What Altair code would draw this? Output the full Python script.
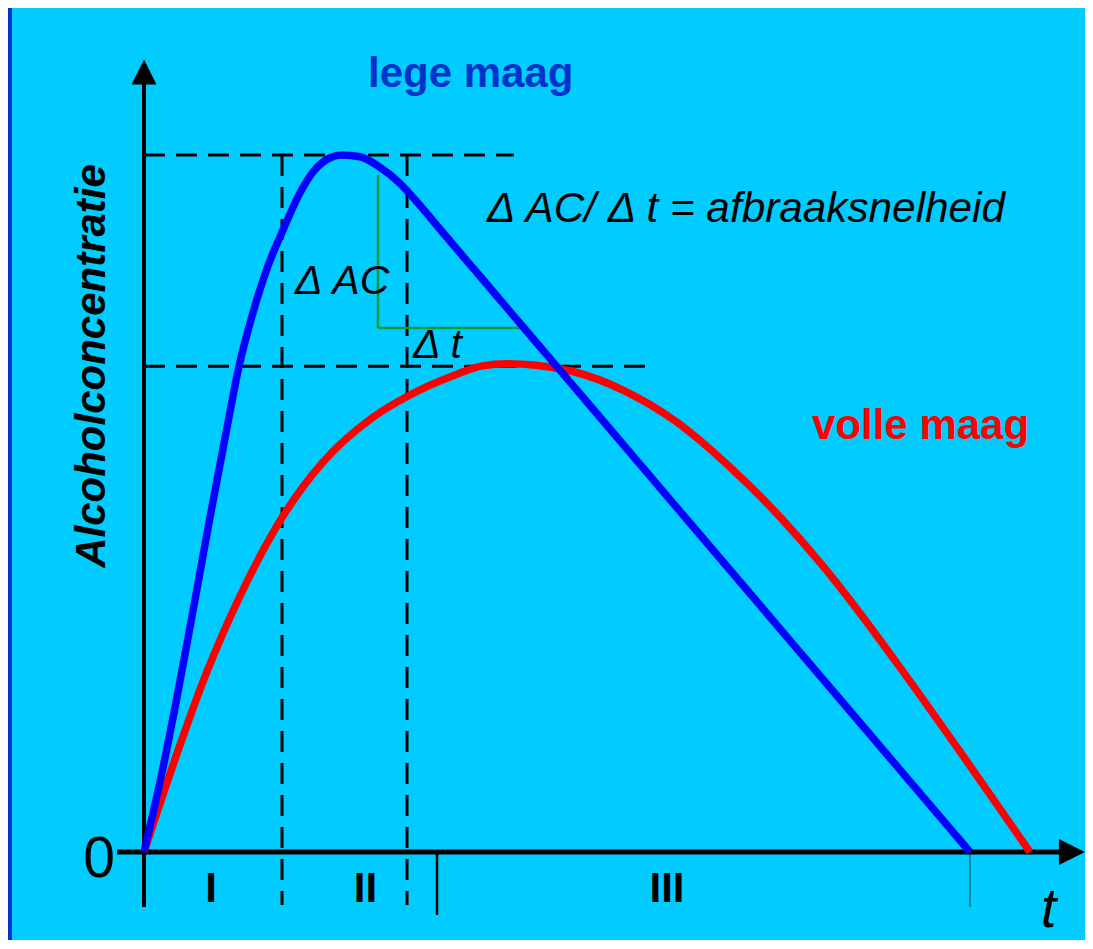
import altair as alt
import pandas as pd

# ---------------- data (time in arbitrary units, relative concentration) -------------
t_lege = [0, 0.2, 0.4, 0.6, 0.8, 1.0, 1.152, 1.3, 1.5, 1.685, 1.891, 2.048, 2.255, 2.4,
          2.618, 2.848, 3.103, 3.242, 3.673, 4.606, 5.527, 6.739, 7.952, 9.164, 10.012]
c_lege = [0, 0.104, 0.222, 0.35, 0.48, 0.605, 0.697, 0.765, 0.840, 0.8924, 0.9458, 0.9756, 0.9961, 1.0,
          0.9975, 0.9834, 0.9592, 0.9415, 0.8816, 0.7518, 0.6237, 0.4551, 0.2865, 0.1179, 0]

t_volle = [0, 0.352, 0.752, 1.164, 1.685, 2.170, 2.764, 3.2, 3.770, 4.1, 4.4,
           4.75, 5.176, 5.830, 6.436, 7.127, 7.697, 8.206, 8.679, 9.115, 9.939, 10.739]
c_volle = [0, 0.1248, 0.2554, 0.3673, 0.4821, 0.5596, 0.6227, 0.6542, 0.6844, 0.6975, 0.7005,
           0.6985, 0.6901, 0.6614, 0.6187, 0.5496, 0.4823, 0.4136, 0.3426, 0.2728, 0.136, 0]

peak_lege = 1.0
peak_volle = 0.697
phase_bounds = [1.673, 3.188]
phase_tick = 3.552
end_tick = 10.012
phase_labels = ["I", "II", "III"]
phase_label_t = [0.812, 2.685, 6.339]

# ---------------- scales ---------------------------------------------------------------
W, H = 1077, 932
XS = alt.Scale(domain=[-136 / 82.5, (W - 136) / 82.5], nice=False, zero=False)
YS = alt.Scale(domain=[-(H - 844) / 697, 844 / 697], nice=False, zero=False)
FONT = "Liberation Sans"


def X(f="t", **kw):
    return alt.X(f, type="quantitative", scale=XS, axis=None, **kw)


def Y(f="c", **kw):
    return alt.Y(f, type="quantitative", scale=YS, axis=None, **kw)


lege = pd.DataFrame({"t": t_lege, "c": c_lege})
volle = pd.DataFrame({"t": t_volle, "c": c_volle})

# dashed guides
hdash = pd.DataFrame({"t": [0, 0], "t2": [4.485, 6.18], "c": [peak_lege, peak_volle]})
vdash = pd.DataFrame({"t": phase_bounds, "c": [peak_lege] * 2, "c2": [-0.076] * 2})

dash_h = alt.Chart(hdash).mark_rule(color="black", strokeWidth=3, strokeDash=[21, 11]).encode(
    x=X(), x2="t2:Q", y=Y())
dash_v = alt.Chart(vdash).mark_rule(color="black", strokeWidth=3, strokeDash=[21, 11]).encode(
    x=X(), y=Y(), y2="c2:Q")

# green slope triangle
green_v = alt.Chart(pd.DataFrame({"t": [2.836], "c": [0.9713], "c2": [0.7518]})).mark_rule(
    color="#15993a", strokeWidth=2.5).encode(x=X(), y=Y(), y2="c2:Q")
green_h = alt.Chart(pd.DataFrame({"t": [2.836], "t2": [4.57], "c": [0.7518]})).mark_rule(
    color="#15993a", strokeWidth=2.5).encode(x=X(), x2="t2:Q", y=Y())

# axes
y_axis = alt.Chart(pd.DataFrame({"t": [0], "c": [-0.0789], "c2": [1.104]})).mark_rule(
    color="black", strokeWidth=4).encode(x=X(), y=Y(), y2="c2:Q")
x_axis = alt.Chart(pd.DataFrame({"t": [-0.327], "t2": [11.1], "c": [0]})).mark_rule(
    color="black", strokeWidth=5).encode(x=X(), x2="t2:Q", y=Y())
tick1 = alt.Chart(pd.DataFrame({"t": [phase_tick], "c": [0], "c2": [-0.0904]})).mark_rule(
    color="black", strokeWidth=2.5).encode(x=X(), y=Y(), y2="c2:Q")
tick2 = alt.Chart(pd.DataFrame({"t": [end_tick], "c": [0], "c2": [-0.0789]})).mark_rule(
    color="#333333", strokeWidth=1).encode(x=X(), y=Y(), y2="c2:Q")
arrow_y = alt.Chart(pd.DataFrame({"t": [0], "c": [1.1191]})).mark_point(
    shape="M0,-1L1,1L-1,1Z", size=625, filled=True, color="black", opacity=1).encode(x=X(), y=Y())
arrow_x = alt.Chart(pd.DataFrame({"t": [11.248], "c": [0]})).mark_point(
    shape="M1,0L-1,-1L-1,1Z", size=676, filled=True, color="black", opacity=1).encode(x=X(), y=Y())

# curves
red = alt.Chart(volle).mark_line(color="#ff0000", strokeWidth=7.5, interpolate="monotone").encode(
    x=X(), y=Y())
blue = alt.Chart(lege).mark_line(color="#0000ff", strokeWidth=7.5, interpolate="monotone").encode(
    x=X(), y=Y())


# texts
def txt(df, baseline="alphabetic", **kw):
    return alt.Chart(df).mark_text(font=FONT, baseline=baseline, **kw).encode(
        x=X(), y=Y(), text="s:N")


zero = txt(pd.DataFrame({"t": [-0.3515], "c": [-0.0359], "s": ["0"]}),
           align="right", fontSize=57, color="black")
phases = txt(pd.DataFrame({"t": phase_label_t, "c": [-0.0717] * 3, "s": phase_labels}),
             align="center", fontSize=42, fontWeight="bold", color="black")
t_lab = txt(pd.DataFrame({"t": [10.87], "c": [-0.1248], "s": ["t"]}), baseline="bottom",
            align="left", fontSize=56, fontStyle="italic", color="black")
ylab = txt(pd.DataFrame({"t": [-0.4727], "c": [0.6973], "s": ["Alcoholconcentratie"]}),
           align="center", angle=270, fontSize=42, fontWeight="bold", fontStyle="italic",
           color="black")
lege_lab = txt(pd.DataFrame({"t": [2.715], "c": [1.0976], "s": ["lege maag"]}),
               align="left", fontSize=42, fontWeight="bold", color="#0033cc")
volle_lab = txt(pd.DataFrame({"t": [8.097], "c": [0.5925], "s": ["volle maag"]}),
                align="left", fontSize=42, fontWeight="bold", color="#ff0000")
formula = txt(pd.DataFrame({"t": [4.158], "c": [0.9039], "s": ["\u0394 AC/ \u0394 t = afbraaksnelheid"]}),
              align="left", fontSize=42.3, fontStyle="italic", color="black")
dac = txt(pd.DataFrame({"t": [1.830], "c": [0.8006], "s": ["\u0394 AC"]}),
          align="left", fontSize=41, fontStyle="italic", color="black")
dt = txt(pd.DataFrame({"t": [3.261], "c": [0.7088], "s": ["\u0394 t"]}),
         align="left", fontSize=41, fontStyle="italic", color="black")

# left frame strip
frame = alt.Chart(pd.DataFrame({"t": [0]})).mark_rect(color="#0033cc").encode(
    x=alt.value(0), x2=alt.value(4), y=alt.value(0), y2=alt.value(H))

chart = alt.layer(
    frame, dash_h, dash_v, green_v, green_h, y_axis, x_axis, tick1, tick2,
    arrow_y, arrow_x, red, blue,
    zero, phases, t_lab, ylab, lege_lab, volle_lab, formula, dac, dt,
).properties(
    width=W, height=H, padding=0, background="#00ccff",
    autosize=alt.AutoSizeParams(type="none"),
).configure_view(strokeWidth=0)

chart.save("out.html", embed_options={"renderer": "svg", "actions": False})
